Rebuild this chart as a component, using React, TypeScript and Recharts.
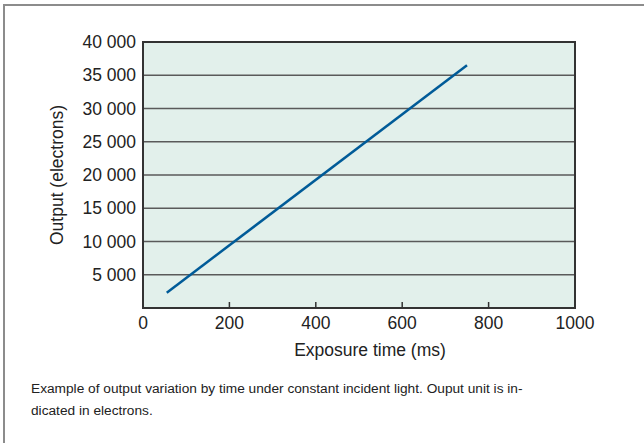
import { LineChart, Line, XAxis, YAxis, CartesianGrid, ReferenceArea } from "recharts";

const exposureMs = [55, 750];
const outputElectrons = [2300, 36500];
const xTicks = [0, 200, 400, 600, 800, 1000];
const yTicks = [5000, 10000, 15000, 20000, 25000, 30000, 35000, 40000];

const data = exposureMs.map((t, i) => ({ t, v: outputElectrons[i] }));

const FONT = "'Liberation Sans', Arial, Helvetica, sans-serif";
const TEXT = "#222";
const FS = 17.5;

const fmt = (v: number) => v.toLocaleString("en-US").replace(/,/g, " ");

function XTick(props: any) {
  const { x, y, payload } = props;
  const inner = payload.value !== 0 && payload.value !== 1000;
  return (
    <g>
      {inner && <line x1={x} x2={x} y1={y} y2={y - 6} stroke="#333" strokeWidth={1.5} />}
      <text x={x} y={y + 9} dy="0.71em" textAnchor="middle" fontSize={FS} fill={TEXT} fontFamily={FONT}>
        {payload.value}
      </text>
    </g>
  );
}

export default function App() {
  return (
    <div style={{ position: "absolute", left: 0, top: 0, width: 644, height: 443, background: "#fff", fontFamily: FONT }}>
      <div
        style={{
          position: "absolute",
          left: 3,
          top: 4,
          right: 0,
          bottom: 0,
          borderTop: "2px solid #8c8c8c",
          borderLeft: "2px solid #8c8c8c",
        }}
      />
      <LineChart
        width={644}
        height={443}
        data={data}
        margin={{ top: 42, right: 69, bottom: 105, left: 40 }}
        style={{ position: "absolute", left: 0, top: 0 }}
      >
        <CartesianGrid
          vertical={false}
          stroke="#5a5a5a"
          strokeWidth={1.5}
          fill="#e2f0eb"
          fillOpacity={1}
        />
        <XAxis
          dataKey="t"
          type="number"
          domain={[0, 1000]}
          ticks={xTicks}
          tickSize={0}
          tickMargin={0}
          tick={<XTick />}
          axisLine={{ stroke: "#333", strokeWidth: 2 }}
          height={30}
          interval={0}
          label={({ viewBox }: any) => (
            <text x={370} y={viewBox.y + 48} textAnchor="middle" fontSize={FS} fill={TEXT} fontFamily={FONT}>
              Exposure time (ms)
            </text>
          )}
        />
        <YAxis
          type="number"
          domain={[0, 40000]}
          ticks={yTicks}
          tickFormatter={fmt}
          tickSize={0}
          tickMargin={7}
          tickLine={false}
          axisLine={{ stroke: "#333", strokeWidth: 2 }}
          width={103}
          interval={0}
          tick={{ fontSize: FS, fill: TEXT, fontFamily: FONT }}
          label={({ viewBox }: any) => {
            const cx = 63;
            const cy = viewBox.y + viewBox.height / 2;
            return (
              <text
                x={cx}
                y={cy}
                transform={`rotate(-90 ${cx} ${cy})`}
                textAnchor="middle"
                fontSize={FS}
                fill={TEXT}
                fontFamily={FONT}
              >
                Output (electrons)
              </text>
            );
          }}
        />
        <ReferenceArea x1={0} x2={1000} y1={0} y2={40000} fill="none" stroke="#333" strokeWidth={2} ifOverflow="visible" />
        <Line
          type="linear"
          dataKey="v"
          stroke="#005b98"
          strokeWidth={2.5}
          dot={false}
          isAnimationActive={false}
        />
      </LineChart>
      <div
        style={{
          position: "absolute",
          left: 31,
          top: 378,
          fontSize: 13.7,
          lineHeight: "21.5px",
          color: TEXT,
          whiteSpace: "nowrap",
        }}
      >
        Example of output variation by time under constant incident light. Ouput unit is in-
        <br />
        dicated in electrons.
      </div>
    </div>
  );
}
